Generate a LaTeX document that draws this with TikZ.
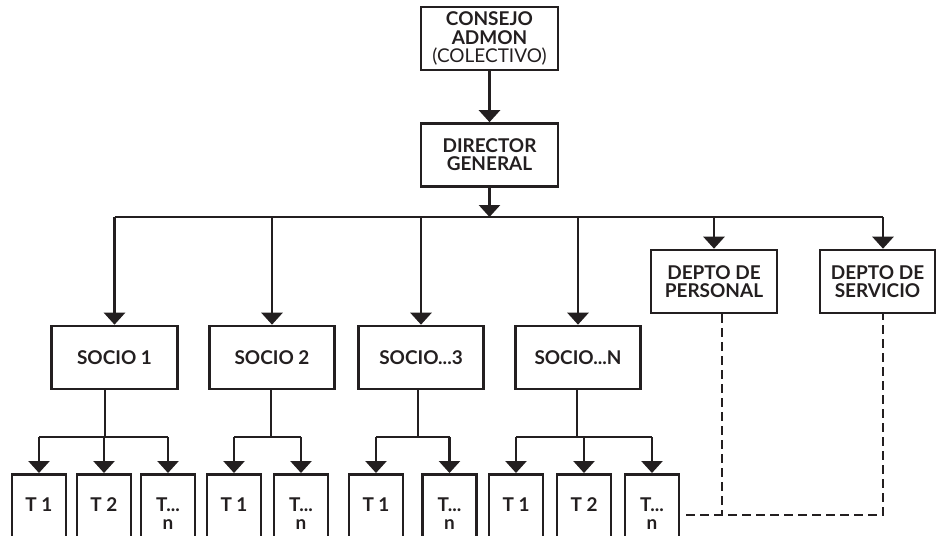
\documentclass[tikz,border=0pt]{standalone}
\usepackage{fontspec}
\setmainfont{Lato}
\usetikzlibrary{arrows.meta,positioning}
\definecolor{ink}{HTML}{231F20}
\tikzset{
  box/.style={draw=ink,line width=1.5pt,minimum width=#1,minimum height=1.26cm,align=center,text=ink,
              font=\fontsize{10.8}{10.3}\selectfont\bfseries,inner sep=2pt},
  box/.default=2.51cm,
  tbox/.style={draw=ink,line width=1.5pt,minimum width=1.08cm,minimum height=2cm,anchor=north,inner sep=0pt},
  tlbl/.style={anchor=north,yshift=-0.48cm,align=center,text=ink,font=\fontsize{10.8}{10.3}\selectfont\bfseries,inner sep=0pt},
  arr/.style={-{Triangle[length=0.24cm,width=0.42cm]},line width=1.5pt,draw=ink},
  link/.style={line width=1.5pt,draw=ink},
  dline/.style={line width=1.5pt,draw=ink,dash pattern=on 0.18cm off 0.1cm},
}

\begin{document}
\begin{tikzpicture}[x=0.02cm,y=-0.02cm]
  \useasboundingbox (0,0) rectangle (937,535);
  \clip (0,0) rectangle (937,535);
  % top of the chart
  \node[box=2.74cm] (consejo)  at (489.5,38.5) {CONSEJO\\ADMON\\{\mdseries(COLECTIVO)}};
  \node[box=2.74cm] (director) at (489.5,155)  {DIRECTOR\\GENERAL};
  \draw[arr] (consejo) -- (director);
  \coordinate (bus) at (489.5,217);
  \draw[arr] (director) -- (bus);
  % socios and deptos
  \foreach \n/\x/\txt in {s1/114.5/{SOCIO 1}, s2/272/{SOCIO 2}, s3/421/{SOCIO...3}, sn/578/{SOCIO...N}}
    \node[box] (\n) at (\x,357.5) {\txt};
  \node[box=2.52cm] (personal) at (714,281.5)   {DEPTO DE\\PERSONAL};
  \node[box=2.3cm]  (servicio) at (877.5,281.5) {DEPTO DE\\SERVICIO};
  \coordinate (servx) at (883,217);
  \draw[link] (s1.north |- bus) -- (servx);
  \foreach \n in {s1,s2,s3,sn,personal} \draw[arr] (\n.north |- bus) -- (\n.north);
  \draw[arr] (servx) -- (servicio.north -| servx);
  % trabajadores
  \foreach \n/\x/\txt in {t11/39/{T 1}, t12/104/{T 2}, t13/168/{T...\\n}, t21/234/{T 1}, t22/301/{T...\\n},
                          t31/376/{T 1}, t32/449.5/{T...\\n}, tn1/516/{T 1}, tn2/584/{T 2}, tn3/652/{T...\\n}}
    \node[tbox,label={[tlbl]north:\txt}] (\n) at (\x,473) {};
  \coordinate (j1) at (105,437);
  \coordinate (j2) at (271,437);
  \coordinate (j3) at (418,437);
  \coordinate (jn) at (577,437);
  \foreach \s/\j/\a/\b in {s1/j1/t11/t13, s2/j2/t21/t22, s3/j3/t31/t32, sn/jn/tn1/tn3}{
    \draw[link] (\s.south -| \j) -- (\j);
    \draw[link] (\a.north |- \j) -- (\b.north |- \j);
  }
  \foreach \n/\j in {t11/j1, t12/j1, t13/j1, t21/j2, t22/j2, t31/j3, t32/j3, tn1/jn, tn2/jn, tn3/jn}
    \draw[arr] (\n.north |- \j) -- (\n.north);
  % dashed links of the deptos
  \coordinate (dp) at (722,515);
  \coordinate (ds) at (883,515);
  \draw[dline] (personal.south -| dp) -- (dp);
  \draw[dline,shorten <=0.12cm] (tn3.east |- dp) -- (ds) -- (servicio.south -| ds);
\end{tikzpicture}
\end{document}
